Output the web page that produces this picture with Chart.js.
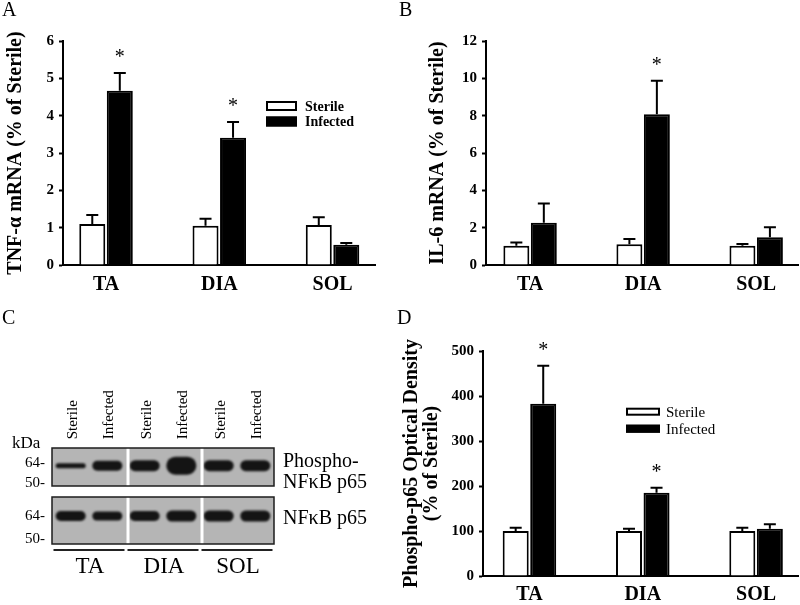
<!DOCTYPE html>
<html><head><meta charset="utf-8">
<script src="https://cdn.jsdelivr.net/npm/chart.js@4.4.1/dist/chart.umd.min.js"></script>
<style>
html,body{margin:0;padding:0;background:#fff;}
body{width:800px;height:605px;position:relative;overflow:hidden;font-family:'Liberation Serif','Times New Roman',serif;}
.panel{position:absolute;}
.letter{position:absolute;font-size:20px;line-height:20px;color:#000;font-family:'Liberation Serif','Times New Roman',serif;}
</style></head><body>
<div class="panel" style="left:0;top:0;width:400px;height:300px"><canvas id="chartA"></canvas></div>
<div class="panel" style="left:400px;top:0;width:400px;height:300px"><canvas id="chartB"></canvas></div>
<div class="panel" style="left:0;top:300px;width:400px;height:305px"><canvas id="chartC"></canvas></div>
<div class="panel" style="left:400px;top:300px;width:400px;height:305px"><canvas id="chartD"></canvas></div>
<div class="letter" style="left:2px;top:-1px">A</div>
<div class="letter" style="left:399px;top:-1px">B</div>
<div class="letter" style="left:2px;top:307px">C</div>
<div class="letter" style="left:397px;top:307px">D</div>
<script>
// ---------- data ----------
const muscles = ['TA', 'DIA', 'SOL'];
const groups = ['Sterile', 'Infected'];

// Panel A: TNF-alpha mRNA
const tnfSterile = [1.10, 1.05, 1.07];
const tnfSterileSem = [0.24, 0.19, 0.21];
const tnfInfected = [4.67, 3.41, 0.54];
const tnfInfectedSem = [0.47, 0.42, 0.05];
const tnfSignificant = [true, true, false];
const tnfTicks = [0, 1, 2, 3, 4, 5, 6];

// Panel B: IL-6 mRNA
const il6Sterile = [1.03, 1.11, 1.03];
const il6SterileSem = [0.18, 0.28, 0.09];
const il6Infected = [2.27, 8.07, 1.48];
const il6InfectedSem = [1.03, 1.80, 0.54];
const il6Significant = [false, true, false];
const il6Ticks = [0, 2, 4, 6, 8, 10, 12];

// Panel D: phospho-p65 optical density
const odSterile = [100, 100, 100];
const odSterileSem = [7, 5, 7];
const odInfected = [383, 185, 105];
const odInfectedSem = [84, 11, 10];
const odSignificant = [true, true, false];
const odTicks = [0, 100, 200, 300, 400, 500];

// Panel C: western blot apparent band intensity (thickness units)
const phosphoSterile = [5, 11, 11];
const phosphoInfected = [10, 18, 11];
const totalSterile = [10, 10, 11];
const totalInfected = [9, 11, 11];
const markerLabels = ['64-', '50-'];
const phosphoLabel = ['Phospho-', 'NF\u03baB p65'];
const totalLabel = ['NF\u03baB p65'];

// ---------- plugins ----------
Chart.defaults.font.family = "'Liberation Serif','Times New Roman',serif";
Chart.defaults.color = '#000';
const FONT = "'Liberation Serif','Times New Roman',serif";

const errorBarPlugin = {
  id: 'errorBars',
  afterDatasetsDraw(chart, args, opts) {
    const ctx = chart.ctx, yS = chart.scales.y;
    chart.data.datasets.forEach((ds, di) => {
      if (!ds.errors) return;
      const meta = chart.getDatasetMeta(di);
      meta.data.forEach((bar, j) => {
        const v = ds.data[j].y, e = ds.errors[j];
        const yTop = yS.getPixelForValue(v + e), yBar = yS.getPixelForValue(v);
        ctx.save();
        ctx.strokeStyle = '#000'; ctx.lineWidth = 2;
        ctx.beginPath();
        ctx.moveTo(bar.x, yBar); ctx.lineTo(bar.x, yTop);
        ctx.moveTo(bar.x - opts.capWidth / 2, yTop); ctx.lineTo(bar.x + opts.capWidth / 2, yTop);
        ctx.stroke();
        if (ds.significant && ds.significant[j]) {
          ctx.fillStyle = '#000';
          ctx.font = '20px ' + FONT;
          ctx.textAlign = 'center'; ctx.textBaseline = 'alphabetic';
          ctx.fillText('*', bar.x, yTop - opts.starGap);
        }
        ctx.restore();
      });
    });
  }
};

const legendPlugin = {
  id: 'boxLegend',
  afterDraw(chart, args, opts) {
    if (!opts || !opts.show) return;
    const ctx = chart.ctx;
    chart.data.datasets.forEach((ds, i) => {
      const y = opts.y + i * opts.rowGap;
      ctx.save();
      ctx.fillStyle = ds.backgroundColor;
      ctx.fillRect(opts.x, y - opts.boxH / 2, opts.boxW, opts.boxH);
      ctx.strokeStyle = '#000'; ctx.lineWidth = 2;
      ctx.strokeRect(opts.x + 1, y - opts.boxH / 2 + 1, opts.boxW - 2, opts.boxH - 2);
      ctx.fillStyle = '#000';
      ctx.font = opts.font;
      ctx.textAlign = 'left'; ctx.textBaseline = 'middle';
      ctx.fillText(ds.label, opts.x + opts.boxW + opts.gap, y + 1);
      ctx.restore();
    });
  }
};

function barPanel(id, cfg) {
  return new Chart(document.getElementById(id), {
    type: 'bar',
    data: {
      datasets: [
        { label: groups[0], data: cfg.sterile.map((v, i) => ({ x: i, y: v })), errors: cfg.sterileSem,
          backgroundColor: '#ffffff', borderColor: '#000', borderWidth: 2 },
        { label: groups[1], data: cfg.infected.map((v, i) => ({ x: i, y: v })), errors: cfg.infectedSem,
          significant: cfg.sig, backgroundColor: '#000000', borderColor: '#000', borderWidth: 2 }
      ]
    },
    options: {
      responsive: true, maintainAspectRatio: false, animation: false, events: [],
      categoryPercentage: 0.486, barPercentage: 0.945,
      layout: { padding: cfg.padding },
      plugins: {
        legend: { display: false }, tooltip: { enabled: false },
        boxLegend: cfg.legend || { show: false },
        errorBars: { capWidth: 12, starGap: 10 }
      },
      scales: {
        x: {
          type: 'linear', min: cfg.xMin, max: cfg.xMax, offset: false,
          afterBuildTicks: s => { s.ticks = muscles.map((m, i) => ({ value: i })); },
          afterFit: s => { s.height = cfg.xHeight; },
          grid: { display: false, offset: false },
          border: { display: true, color: '#000', width: 2 },
          ticks: { autoSkip: false, maxRotation: 0, padding: cfg.xPad, color: '#000',
                   font: { size: 20, weight: 'bold' }, callback: v => muscles[v] }
        },
        y: {
          min: cfg.ticks[0], max: cfg.ticks[cfg.ticks.length - 1],
          afterBuildTicks: s => { s.ticks = cfg.ticks.map(v => ({ value: v })); },
          afterFit: s => { s.width = cfg.yWidth; },
          grid: { display: true, drawOnChartArea: false, drawTicks: true, tickLength: 4,
                  tickColor: '#000', tickWidth: 2, color: '#000' },
          border: { display: true, color: '#000', width: 2 },
          ticks: { padding: 5, color: '#000', font: { size: 15, weight: 'bold' } },
          title: { display: true, text: cfg.title, color: '#000',
                   font: { size: 20, weight: 'bold', lineHeight: cfg.titleLH || 1.2 },
                   padding: { top: cfg.titlePad, bottom: 0 } }
        }
      }
    },
    plugins: [errorBarPlugin, legendPlugin]
  });
}

barPanel('chartA', {
  sterile: tnfSterile, sterileSem: tnfSterileSem, infected: tnfInfected, infectedSem: tnfInfectedSem,
  sig: tnfSignificant, ticks: tnfTicks, title: 'TNF-\u03b1 mRNA (% of Sterile)',
  padding: { top: 41, right: 25, left: 0, bottom: 0 }, yWidth: 63, xHeight: 35, xPad: 0,
  xMin: -0.38, xMax: 2.375, titlePad: 4,
  legend: { show: true, x: 266, y: 106, rowGap: 15.5, boxW: 31, boxH: 10, gap: 8, font: 'bold 14px ' + FONT }
});

barPanel('chartB', {
  sterile: il6Sterile, sterileSem: il6SterileSem, infected: il6Infected, infectedSem: il6InfectedSem,
  sig: il6Significant, ticks: il6Ticks, title: 'IL-6 mRNA (% of Sterile)',
  padding: { top: 41, right: 2, left: 0, bottom: 0 }, yWidth: 86, xHeight: 35, xPad: 0,
  xMin: -0.39, xMax: 2.37, titlePad: 26.3
});

barPanel('chartD', {
  sterile: odSterile, sterileSem: odSterileSem, infected: odInfected, infectedSem: odInfectedSem,
  sig: odSignificant, ticks: odTicks, title: ['Phospho-p65 Optical Density', '(% of Sterile)'],
  padding: { top: 51, right: 2, left: 0, bottom: 0 }, yWidth: 83, xHeight: 29, xPad: -1,
  xMin: -0.41, xMax: 2.37, titlePad: 1.7, titleLH: 1.0,
  legend: { show: true, x: 226, y: 111.7, rowGap: 17, boxW: 34, boxH: 8, gap: 6, font: '15px ' + FONT }
});

// ---------- Panel C: blot ----------
const PH_C = 17.7, TOT_C = 68;          // band row centres (blot units from top)
const PH_BOX = [0, 38], TOT_BOX = [49, 96];
const band = (c, t) => [c - t / 2, c + t / 2];
const BAND_COLOR = '#141414';

const blotPlugin = {
  id: 'blot',
  beforeDatasetsDraw(chart) {
    const { ctx, chartArea: ca, scales: { y } } = chart;
    ctx.save();
    ctx.fillStyle = '#b5b5b5';
    [PH_BOX, TOT_BOX].forEach(([a, b]) => {
      const t = y.getPixelForValue(a), bt = y.getPixelForValue(b);
      ctx.fillRect(ca.left, t, ca.right - ca.left, bt - t);
    });
    ctx.restore();
    ctx.save();
    ctx.filter = 'blur(0.8px)';
  },
  afterDatasetsDraw(chart) {
    const { ctx, chartArea: ca, scales: { x, y } } = chart;
    ctx.restore();
    ctx.save();
    // white lane-group separators
    [PH_BOX, TOT_BOX].forEach(([a, b]) => {
      const t = y.getPixelForValue(a), bt = y.getPixelForValue(b);
      ctx.strokeStyle = '#ffffff'; ctx.lineWidth = 3;
      for (let k = 0; k < muscles.length - 1; k++) {
        const sx = x.getPixelForValue(k + 0.5) + 2;
        ctx.beginPath(); ctx.moveTo(sx, t); ctx.lineTo(sx, bt); ctx.stroke();
      }
      ctx.strokeStyle = '#1c1c1c'; ctx.lineWidth = 1.5;
      ctx.strokeRect(ca.left, t, ca.right - ca.left, bt - t);
    });
    ctx.fillStyle = '#000';
    // lane labels (rotated)
    ctx.font = '15px ' + FONT;
    [0, 1].forEach(di => {
      const meta = chart.getDatasetMeta(di);
      meta.data.forEach(bar => {
        ctx.save();
        ctx.translate(bar.x + 2, ca.top - 8.7);
        ctx.rotate(-Math.PI / 2);
        ctx.textAlign = 'left'; ctx.textBaseline = 'middle';
        ctx.fillText(chart.data.datasets[di].condition, 0, 0);
        ctx.restore();
      });
    });
    // kDa markers
    ctx.font = '17px ' + FONT; ctx.textAlign = 'left'; ctx.textBaseline = 'middle';
    ctx.fillText('kDa', 12, ca.top - 4);
    ctx.font = '15px ' + FONT; ctx.textAlign = 'right';
    [[15.3, 34.7], [TOT_C, 91.3]].forEach(rows => {
      rows.forEach((v, k) => ctx.fillText(markerLabels[k], 45, y.getPixelForValue(v)));
    });
    // protein labels
    ctx.font = '20px ' + FONT; ctx.textAlign = 'left';
    phosphoLabel.forEach((t, k) => ctx.fillText(t, ca.right + 9, y.getPixelForValue(13.7 + k * 21)));
    totalLabel.forEach(t => ctx.fillText(t, ca.right + 9, y.getPixelForValue(70.3)));
    // group underlines and names
    ctx.strokeStyle = '#222'; ctx.lineWidth = 2;
    muscles.forEach((m, k) => {
      const l = x.getPixelForValue(k - 0.5) + 1.5, r = x.getPixelForValue(k + 0.5) - 1.5;
      ctx.beginPath(); ctx.moveTo(l, ca.bottom + 6); ctx.lineTo(r, ca.bottom + 6); ctx.stroke();
      ctx.font = '23px ' + FONT; ctx.textAlign = 'center'; ctx.textBaseline = 'middle';
      ctx.fillText(m, x.getPixelForValue(k) + 1, ca.bottom + 23);
    });
    ctx.restore();
  }
};

const bandStyle = { backgroundColor: BAND_COLOR, borderColor: BAND_COLOR, borderWidth: 0, borderRadius: 20,
                    borderSkipped: false, categoryPercentage: 0.99, barPercentage: 0.82 };

new Chart(document.getElementById('chartC'), {
  type: 'bar',
  data: {
    labels: muscles,
    datasets: [
      Object.assign({ label: 'Phospho-NF\u03baB p65 ' + groups[0], condition: groups[0], stack: 's', data: phosphoSterile.map(t => band(PH_C, t)) }, bandStyle),
      Object.assign({ label: 'Phospho-NF\u03baB p65 ' + groups[1], condition: groups[1], stack: 'i', data: phosphoInfected.map(t => band(PH_C, t)) }, bandStyle),
      Object.assign({ label: 'NF\u03baB p65 ' + groups[0], condition: groups[0], stack: 's', data: totalSterile.map(t => band(TOT_C, t)) }, bandStyle),
      Object.assign({ label: 'NF\u03baB p65 ' + groups[1], condition: groups[1], stack: 'i', data: totalInfected.map(t => band(TOT_C, t)) }, bandStyle)
    ]
  },
  options: {
    responsive: true, maintainAspectRatio: false, animation: false, events: [],
    layout: { padding: { left: 52, right: 126, top: 148, bottom: 61 } },
    plugins: { legend: { display: false }, tooltip: { enabled: false } },
    scales: {
      x: { display: false },
      y: { display: false, min: 0, max: 96, reverse: true, stacked: false }
    }
  },
  plugins: [blotPlugin]
});
</script>
</body></html>
